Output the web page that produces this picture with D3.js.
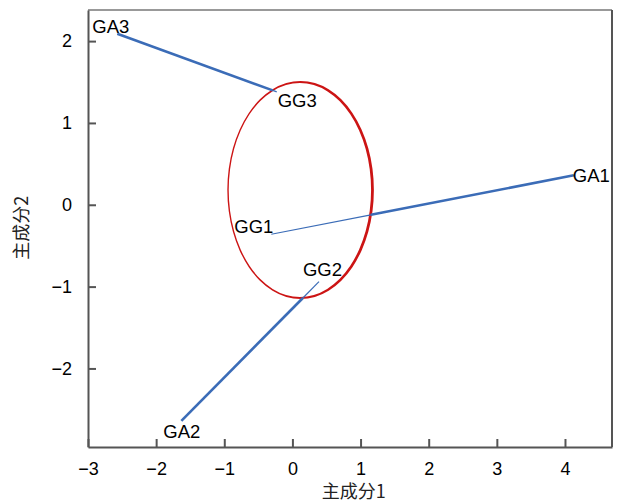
<!DOCTYPE html>
<html>
<head>
<meta charset="utf-8">
<script src="https://cdn.jsdelivr.net/npm/d3@7"></script>
<style>
    body { margin: 0; background: #fff; }
    text { font-family: "Liberation Sans", Arial, sans-serif; fill: #000; }
    .axis text { font-size: 18px; }
    .axis path, .axis line { stroke: #555; stroke-width: 2; }
    .pt-label { font-size: 18.5px; }
    .axis-label { font-family: "Noto Sans CJK SC", sans-serif; font-size: 18px; fill: #222; }
</style>
</head>
<body>
<div id="chart"></div>
<script>
// group points (inside the ellipse) and the attribute points they link to
var groupNames = ['GG1', 'GG2', 'GG3'];
var groupX = [-0.31, 0.39, -0.23];
var groupY = [-0.36, -0.94, 1.38];

var attrNames = ['GA1', 'GA2', 'GA3'];
var attrX = [4.13, -1.63, -2.57];
var attrY = [0.36, -2.64, 2.09];

// confidence ellipse: centre and semi axes (data units)
var ellipseCenter = [0.12, 0.18];
var ellipseRadii = [1.06, 1.32];

var xTicks = [-3, -2, -1, 0, 1, 2, 3, 4];
var yTicks = [-2, -1, 0, 1, 2];
var xDomain = [-3, 4.69];
var yDomain = [-2.96, 2.38];

// label offsets in px from the point (text start, baseline)
var labelOffset = {
    GG1: [-37, -1], GG2: [-16, -6], GG3: [1, 15],
    GA1: [-1, 7], GA2: [-18, 17], GA3: [-25, -1]
};

var margin = { top: 10, right: 8, bottom: 57, left: 88 };
var width = 620 - margin.left - margin.right;
var height = 504 - margin.top - margin.bottom;

var svg = d3.select("#chart").append("svg")
    .attr("width", 620)
    .attr("height", 504)
    .append("g")
    .attr("transform", "translate(" + margin.left + "," + margin.top + ")");

// Scales
var x = d3.scaleLinear().domain(xDomain).range([0, width]);
var y = d3.scaleLinear().domain(yDomain).range([height, 0]);

// Frame (top and right)
svg.append("line")
    .attr("x1", 0).attr("x2", width)
    .attr("y1", 0).attr("y2", 0)
    .attr("stroke", "#777").attr("stroke-width", 1.5);
svg.append("line")
    .attr("x1", width).attr("x2", width)
    .attr("y1", 0).attr("y2", height)
    .attr("stroke", "#555").attr("stroke-width", 2);

// Axes, ticks pointing inwards
var xAxis = d3.axisBottom(x)
    .tickValues(xTicks)
    .tickFormat(d3.format("d"))
    .tickSizeInner(-8)
    .tickSizeOuter(0)
    .tickPadding(15);
var yAxis = d3.axisLeft(y)
    .tickValues(yTicks)
    .tickFormat(d3.format("d"))
    .tickSizeInner(-8)
    .tickSizeOuter(0)
    .tickPadding(16);

svg.append("g")
    .attr("class", "axis x-axis")
    .attr("transform", "translate(0," + height + ")")
    .call(xAxis);
svg.append("g")
    .attr("class", "axis y-axis")
    .call(yAxis);
svg.selectAll(".axis text").attr("fill", "#000");

// Axis labels
svg.append("text")
    .attr("class", "axis-label")
    .attr("x", x(0.9))
    .attr("y", height + 51)
    .style("text-anchor", "middle")
    .text("主成分1");
svg.append("text")
    .attr("class", "axis-label")
    .attr("transform", "rotate(-90)")
    .attr("x", -(y(-0.28)))
    .attr("y", -66)
    .attr("dy", "0.35em")
    .style("text-anchor", "middle")
    .text("主成分2");

// Ellipse drawn as a ring, a bit heavier on the right side
var ecx = x(ellipseCenter[0]), ecy = y(ellipseCenter[1]);
var erx = x(ellipseCenter[0] + ellipseRadii[0]) - ecx;
var ery = ecy - y(ellipseCenter[1] + ellipseRadii[1]);

function ellipsePath(cx, cy, rx, ry) {
    return "M" + (cx - rx) + "," + cy +
        "A" + rx + "," + ry + " 0 1,0 " + (cx + rx) + "," + cy +
        "A" + rx + "," + ry + " 0 1,0 " + (cx - rx) + "," + cy + "Z";
}

svg.append("path")
    .attr("d", ellipsePath(ecx, ecy, erx + 1.05, ery + 1.0) +
        ellipsePath(ecx - 0.7, ecy, erx - 1.05, ery - 1.0))
    .attr("fill", "#cc1414")
    .attr("fill-rule", "evenodd");

// Links: thick outside the ellipse, thin inside
var links = groupNames.map(function(g, i) {
    var gx = x(groupX[i]), gy = y(groupY[i]);
    var ax = x(attrX[i]), ay = y(attrY[i]);
    // where the segment leaves the ellipse
    var dx = ax - gx, dy = ay - gy;
    var ux = (gx - ecx) / erx, uy = (gy - ecy) / ery;
    var vx = dx / erx, vy = dy / ery;
    var a = vx * vx + vy * vy, b = 2 * (ux * vx + uy * vy), c = ux * ux + uy * uy - 1;
    var disc = b * b - 4 * a * c;
    var t = disc > 0 ? Math.max(0, (-b + Math.sqrt(disc)) / (2 * a)) : 0;
    t = Math.min(1, t);
    return { gx: gx, gy: gy, ax: ax, ay: ay, mx: gx + t * dx, my: gy + t * dy };
});

svg.selectAll(".link-inner")
    .data(links)
    .enter()
    .append("line")
    .attr("class", "link-inner")
    .attr("x1", function(d) { return d.gx; })
    .attr("y1", function(d) { return d.gy; })
    .attr("x2", function(d) { return d.mx; })
    .attr("y2", function(d) { return d.my; })
    .attr("stroke", "#3b6cb7")
    .attr("stroke-width", 1.2);

svg.selectAll(".link-outer")
    .data(links)
    .enter()
    .append("line")
    .attr("class", "link-outer")
    .attr("x1", function(d) { return d.mx; })
    .attr("y1", function(d) { return d.my; })
    .attr("x2", function(d) { return d.ax; })
    .attr("y2", function(d) { return d.ay; })
    .attr("stroke", "#3b6cb7")
    .attr("stroke-width", 2.6);

// Point labels
var labels = groupNames.map(function(n, i) { return { name: n, px: x(groupX[i]), py: y(groupY[i]) }; })
    .concat(attrNames.map(function(n, i) { return { name: n, px: x(attrX[i]), py: y(attrY[i]) }; }));

svg.selectAll(".pt-label")
    .data(labels)
    .enter()
    .append("text")
    .attr("class", "pt-label")
    .attr("x", function(d) { return d.px + labelOffset[d.name][0]; })
    .attr("y", function(d) { return d.py + labelOffset[d.name][1]; })
    .text(function(d) { return d.name; });
</script>
</body>
</html>
